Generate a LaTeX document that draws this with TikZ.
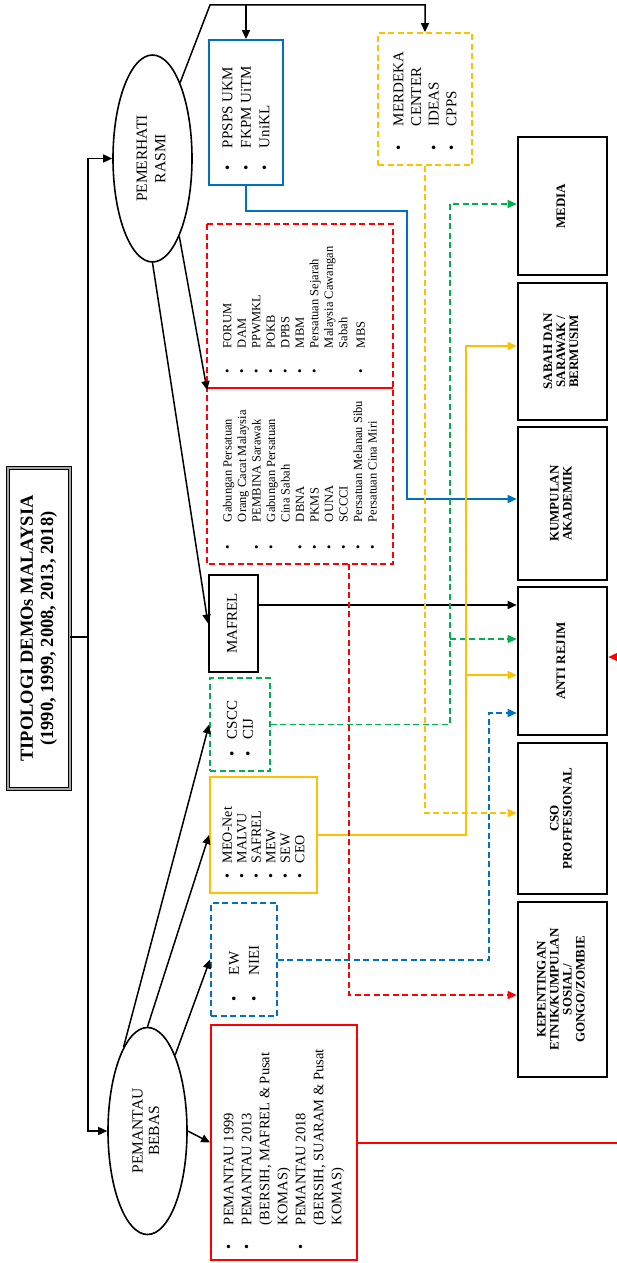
\documentclass[tikz,border=0pt]{standalone}
\usepackage{fontspec}
\setmainfont{Liberation Serif}
\usepackage{graphicx}
\usetikzlibrary{shapes.geometric, arrows.meta}
\definecolor{ofblue}{RGB}{0, 112, 192}
\definecolor{ofred}{RGB}{255, 0, 0}
\definecolor{ofgold}{RGB}{255, 192, 0}
\definecolor{ofgreen}{RGB}{0, 176, 80}

\newlength{\bgap}
\newcommand{\itm}[1]{\makebox[\bgap][l]{\textbullet}#1}
\newcommand{\nob}[1]{\hspace*{\bgap}#1}
% width, size, skip, bullet gap, lines
\newcommand{\vlist}[5]{\rotatebox{90}{\parbox{#1}{\fontsize{#2}{#3}\selectfont\setlength{\bgap}{#4}\raggedright #5}}}
\newcommand{\vtext}[4][]{\rotatebox{90}{\fontsize{#2}{#3}\selectfont#1\begin{tabular}{@{}c@{}}#4\end{tabular}}}

\begin{document}
\begin{tikzpicture}[x=1pt, y=-1pt,
    conn/.style={line width=1.5pt},
    arr/.style={conn, -{Triangle[length=9pt,width=8pt]}},
    cdash/.style={dash pattern=on 6pt off 3.5pt},
    lbox/.style={rectangle, inner sep=0pt, line width=1.8pt},
    rbox/.style={rectangle, draw, line width=2.6pt, inner sep=0pt, minimum width=89pt},
    oval/.style={ellipse, draw, line width=1.6pt, inner sep=0pt, minimum width=79pt, minimum height=207pt}]
\useasboundingbox (0,0) rectangle (617,1263);
\clip (0,0) rectangle (617,1263);

% title and the two groups
\node[rectangle, draw, line width=0.9pt, double=gray!70, double distance=2.5pt, inner sep=0pt,
      minimum width=62pt, minimum height=321pt] (title) at (39,628.5)
      {\vtext[\bfseries]{18.5}{20}{TIPOLOGI DEMOs MALAYSIA\\(1990, 1999, 2008, 2013, 2018)}};
\node[oval] (rasmi) at (152.5,158.5) {\vtext{15.5}{18.5}{PEMERHATI\\RASMI}};
\node[oval] (bebas) at (147.5,1131) {\vtext{15.5}{16.5}{PEMANTAU\\BEBAS}};

% observer lists
\node[lbox, draw=ofblue, minimum width=74pt, minimum height=145pt] (ppsps) at (246,112.5)
      {\vlist{115pt}{15}{18.5}{22pt}{\itm{PPSPS UKM}\\\itm{FKPM UiTM}\\\itm{UniKL}}};
\node[lbox, draw=ofgold, cdash, minimum width=94pt, minimum height=132pt] (merdeka) at (425,99)
      {\vlist{102pt}{15}{17.7}{24pt}{\itm{MERDEKA}\\\nob{CENTER}\\\itm{IDEAS}\\\itm{CPPS}}};
\node[lbox, minimum width=184pt, minimum height=162pt] (redtop) at (300,306)
      {\rotatebox{90}{\begin{minipage}[c][154pt][t]{134pt}\fontsize{12.5}{14.5}\selectfont\setlength{\bgap}{25pt}\raggedright
       \itm{FORUM}\\\itm{DAM}\\\itm{PPWMKL}\\\itm{POKB}\\\itm{DPBS}\\\itm{MBM}\\\itm{Persatuan Sejarah}\\\nob{Malaysia Cawangan}\\\nob{Sabah}\\[3pt]\itm{MBS}
       \end{minipage}}};
\node[lbox, minimum width=184pt, minimum height=176pt] (redbot) at (300,475)
      {\rotatebox{90}{\begin{minipage}[c][154pt][t]{148pt}\fontsize{12.5}{14.5}\selectfont\setlength{\bgap}{27pt}\raggedright
       \itm{Gabungan Persatuan}\\\nob{Orang Cacat Malaysia}\\\itm{PEMBINA Sarawak}\\\itm{Gabungan Persatuan}\\\nob{Cina Sabah}\\\itm{DBNA}\\\itm{PKMS}\\\itm{OUNA}\\\itm{SCCCI}\\\itm{Persatuan Melanau Sibu}\\\itm{Persatuan Cina Miri}
       \end{minipage}}};
\draw[ofred, cdash, line width=1.8pt] (redtop.north west) rectangle (redbot.south east);
\draw[ofred, line width=1.8pt] (redtop.south west) -- (redtop.south east);
\node[lbox, draw, line width=2pt, minimum width=49pt, minimum height=97pt] (mafrel) at (233.5,623.5)
      {\vtext{15}{17}{MAFREL}};
\node[lbox, draw=ofgreen, cdash, minimum width=60pt, minimum height=93pt] (cscc) at (240,724.5)
      {\vlist{63pt}{15}{16}{17pt}{\itm{CSCC}\\\itm{CIJ}}};
\node[lbox, draw=ofgold, minimum width=107pt, minimum height=116pt] (meo) at (263.5,835)
      {\vlist{86pt}{14}{14.5}{15pt}{\itm{MEO-Net}\\\itm{MALVU}\\\itm{SAFREL}\\\itm{MEW}\\\itm{SEW}\\\itm{CEO}}};
\node[lbox, draw=ofblue, cdash, minimum width=66pt, minimum height=113pt] (ew) at (244,959.5)
      {\vlist{83pt}{15}{20}{26pt}{\itm{EW}\\\itm{NIEI}}};
\node[lbox, draw=ofred, minimum width=146pt, minimum height=235pt] (pemantau) at (284,1142.5)
      {\vlist{213pt}{14.5}{18}{24pt}{\itm{PEMANTAU 1999}\\\itm{PEMANTAU 2013}\\\nob{(BERSIH, MAFREL \& Pusat}\\\nob{KOMAS)}\\\itm{PEMANTAU 2018}\\\nob{(BERSIH, SUARAM \& Pusat}\\\nob{KOMAS)}}};

% categories
\node[rbox, minimum height=138pt] (media) at (562.5,206) {\vtext[\bfseries]{13}{13}{MEDIA}};
\node[rbox, minimum height=137pt] (sabah) at (562.5,351.5) {\vtext[\bfseries]{13}{13}{SABAH DAN\\SARAWAK /\\BERMUSIM}};
\node[rbox, minimum height=153pt] (akad) at (562.5,503.5) {\vtext[\bfseries]{13}{13}{KUMPULAN\\AKADEMIK}};
\node[rbox, minimum height=148pt] (anti) at (562.5,661) {\vtext[\bfseries]{13}{13}{ANTI REJIM}};
\node[rbox, minimum height=151pt] (cso) at (562.5,818.5) {\vtext[\bfseries]{13}{13}{CSO\\PROFFESIONAL}};
\node[rbox, minimum height=175pt] (kep) at (562.5,989.5) {\vtext[\bfseries]{13}{13}{KEPENTINGAN\\ETNIK/KUMPULAN\\SOSIAL/\\GONGO/ZOMBIE}};

% black links
\coordinate (trunk) at (88,637);
\coordinate (topbend) at (210,5);
\draw[conn] (title.east |- trunk) -- (trunk);
\draw[arr] (trunk) |- (rasmi.west);
\draw[arr] (trunk) |- (bebas.west);
\draw[arr] (rasmi.70) -- (topbend) -| (merdeka.north);
\draw[arr] (topbend -| ppsps.north) -- (ppsps.north);
\draw[arr] (rasmi.-71) -- ([yshift=-4pt]redbot.north west);
\draw[arr] (rasmi.south) -- (mafrel.west);
\draw[arr] (bebas.106) -- (cscc.west);
\draw[arr] (bebas.north) -- (meo.west);
\draw[arr] (bebas.70) -- (ew.west);
\draw[arr] (bebas.east) -- (pemantau.west);
\draw[arr] (mafrel.east |- 0,605) -- (anti.west |- 0,605);

% coloured links
\draw[arr, ofblue] (ppsps.south) |- (407,211) |- (akad.west |- 0,499);
\draw[arr, ofgold, cdash] (merdeka.south) |- (cso.west |- 0,813);
\draw[arr, ofgreen, cdash] (cscc.east) -| (450,204) -- (media.west |- 0,204);
\draw[arr, ofgreen, cdash] (450,639) -- (anti.west |- 0,639);
\draw[arr, ofgold] (meo.east) -| (466,346) -- (sabah.west |- 0,346);
\draw[arr, ofgold] (466,675) -- (anti.west |- 0,675);
\draw[arr, ofblue, cdash] (ew.east |- 0,960) -| (489,713) -- (anti.west |- 0,713);
\draw[arr, ofred, cdash] (redbot.south -| 349,0) |- (kep.west |- 0,995);
\draw[arr, ofred] (pemantau.east |- 0,1143) -| (640,657) -- (anti.east |- 0,657);
\end{tikzpicture}
\end{document}
